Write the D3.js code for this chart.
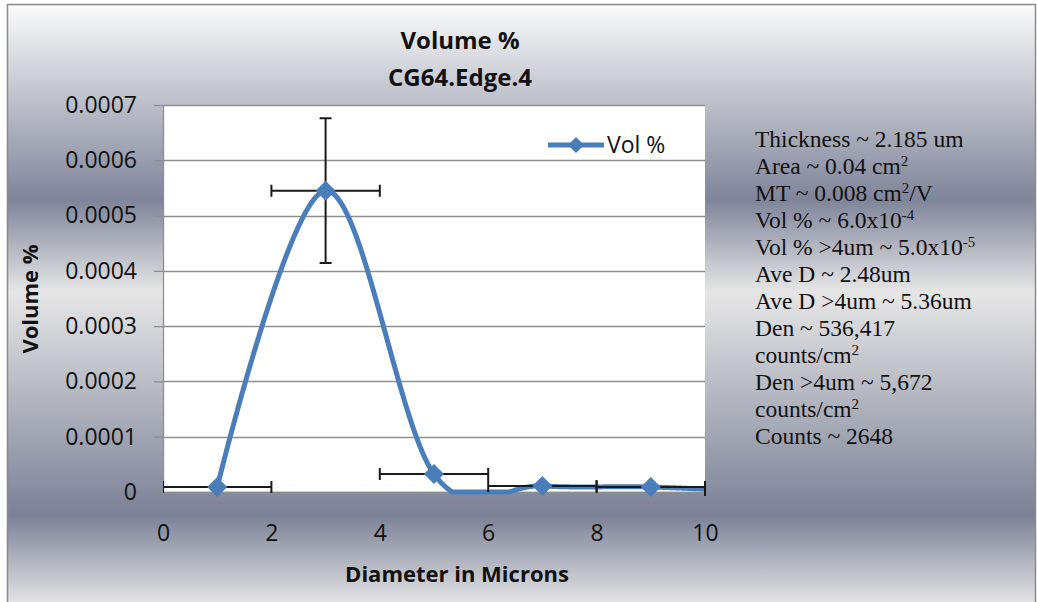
<!DOCTYPE html>
<html>
<head>
<meta charset="utf-8">
<script src="https://cdn.jsdelivr.net/npm/d3@7"></script>
<style>
	html, body { margin: 0; padding: 0; background: #fff; }
	svg { display: block; }
</style>
</head>
<body>
<svg id="chart" width="1037" height="602"></svg>
<script>
// Bin centres (microns) and measured volume %. The last bin sits past the axis max and gets clipped.
const diameters = [1, 3, 5, 7, 9, 11];
const volumePct = [0.000009, 0.000545, 0.0000325, 0.000011, 0.000009, 0.0000005];

// Error bars: half bin width on x, measured spread on y.
const xErrors = [1, 1, 1, 1, 1, 1];
const yErrors = [0.000002, 0.000131, 0.000004, 0.000002, 0.000002, 0];

const xTicks = [0, 2, 4, 6, 8, 10];
const yTicks = [0, 0.0001, 0.0002, 0.0003, 0.0004, 0.0005, 0.0006, 0.0007];

const titleLines = ['Volume %', 'CG64.Edge.4'];
const xTitle = 'Diameter in Microns';
const yTitle = 'Volume %';
const seriesName = 'Vol %';

// Text box next to the chart; {..} marks a superscript.
const infoLines = [
	'Thickness ~ 2.185 um',
	'Area ~ 0.04 cm{2}',
	'MT ~ 0.008 cm{2}/V',
	'Vol % ~ 6.0x10{-4}',
	'Vol % >4um ~ 5.0x10{-5}',
	'Ave D ~ 2.48um',
	'Ave D >4um ~ 5.36um',
	'Den ~ 536,417',
	'counts/cm{2}',
	'Den >4um ~ 5,672',
	'counts/cm{2}',
	'Counts ~ 2648',
];

const points = diameters.map((d, i) => ({ x: d, y: volumePct[i], ex: xErrors[i], ey: yErrors[i] }));

const svg = d3.select('#chart');
const sans = "'Open Sans', sans-serif";
const blue = '#4a7ebb';

const plot = { left: 163, right: 705, top: 105, bottom: 492 };

const x = d3.scaleLinear().domain([0, 10]).range([plot.left, plot.right]);
const y = d3.scaleLinear().domain([0, 0.0007]).range([plot.bottom, plot.top]);

// Chart area fill: banded grey-blue gradient.
const defs = svg.append('defs');
const grad = defs
	.append('linearGradient')
	.attr('id', 'bg')
	.attr('gradientUnits', 'userSpaceOnUse')
	.attr('x1', 0)
	.attr('y1', 4)
	.attr('x2', 0)
	.attr('y2', 602);

[
	[4, '#fbfbfb'],
	[200, '#7f8499'],
	[292, '#e6e6e6'],
	[515, '#7b8196'],
	[602, '#e2e2e4'],
].forEach(([py, color]) => {
	grad.append('stop').attr('offset', (py - 4) / 598).attr('stop-color', color);
});

defs
	.append('clipPath')
	.attr('id', 'plot-clip')
	.append('rect')
	.attr('x', plot.left)
	.attr('y', plot.top)
	.attr('width', plot.right - plot.left + 1)
	.attr('height', plot.bottom - plot.top + 4);

svg
	.append('rect')
	.attr('x', 7.5)
	.attr('y', 4.5)
	.attr('width', 1028)
	.attr('height', 610)
	.attr('fill', 'url(#bg)')
	.attr('stroke', '#8a8a8a')
	.attr('stroke-width', 1.5);

svg
	.append('rect')
	.attr('x', plot.left)
	.attr('y', plot.top)
	.attr('width', plot.right - plot.left)
	.attr('height', plot.bottom - plot.top)
	.attr('fill', '#fff');

// Horizontal gridlines.
svg
	.append('g')
	.selectAll('line')
	.data(yTicks)
	.join('line')
	.attr('x1', plot.left)
	.attr('x2', plot.right)
	.attr('y1', d => Math.round(y(d)) + 0.5)
	.attr('y2', d => Math.round(y(d)) + 0.5)
	.attr('stroke', '#8e8e8e')
	.attr('stroke-width', 1.3);

// Axes.
const yAxis = svg
	.append('g')
	.attr('transform', `translate(${plot.left},0)`)
	.call(
		d3
			.axisLeft(y)
			.tickValues(yTicks)
			.tickFormat(d => (d === 0 ? '0' : d3.format('.4f')(d)))
			.tickSizeInner(9)
			.tickSizeOuter(0)
			.tickPadding(17)
	);

const xAxis = svg
	.append('g')
	.attr('transform', `translate(0,${plot.bottom})`)
	.call(d3.axisBottom(x).tickValues(xTicks).tickSizeInner(5).tickSizeOuter(0).tickPadding(28));

[yAxis, xAxis].forEach(axis => {
	axis.select('.domain').attr('stroke', '#8e8e8e').attr('stroke-width', 1.3);
	axis.selectAll('.tick line').attr('stroke', '#8e8e8e').attr('stroke-width', 1.3);
	axis.selectAll('.tick text').attr('fill', '#111').style('font-family', sans).style('font-size', '23px');
});

// Series: smoothed line, error bars, then markers on top.
const series = svg.append('g').attr('clip-path', 'url(#plot-clip)');

const smooth = d3
	.line()
	.x(d => x(d.x))
	.y(d => y(d.y))
	.curve(d3.curveCatmullRom.alpha(0));

// Like Excel, flatten the part of the curve that dips under the axis onto the plot edge.
const probe = svg.append('path').attr('d', smooth(points)).attr('visibility', 'hidden');
const probeNode = probe.node();
const total = probeNode.getTotalLength();
const samples = d3.range(0, total, 1).concat([total]).map(l => {
	const p = probeNode.getPointAtLength(l);
	return [p.x, Math.min(p.y, plot.bottom)];
});
probe.remove();

series
	.append('path')
	.attr('fill', 'none')
	.attr('stroke', blue)
	.attr('stroke-width', 5)
	.attr('stroke-linejoin', 'round')
	.attr('d', d3.line()(samples));

const cap = 6;
series
	.append('g')
	.attr('stroke', '#1a1a1a')
	.attr('stroke-width', 2)
	.attr('fill', 'none')
	.selectAll('path')
	.data(points)
	.join('path')
	.attr('d', d => {
		const cx = x(d.x);
		const cy = y(d.y);
		const x0 = x(d.x - d.ex);
		const x1 = x(d.x + d.ex);
		const yTop = y(d.y + d.ey);
		const yBot = y(d.y - d.ey);
		let p = `M${x0},${cy}H${x1}M${x0},${cy - cap}V${cy + cap}M${x1},${cy - cap}V${cy + cap}`;
		if (d.ey) {
			p += `M${cx},${yTop}V${yBot}M${cx - cap},${yTop}H${cx + cap}M${cx - cap},${yBot}H${cx + cap}`;
		}
		return p;
	});

const diamond = r => `M0,${-r}L${r},0L0,${r}L${-r},0Z`;

svg
	.append('g')
	.selectAll('path')
	.data(points.filter(d => d.x <= x.domain()[1]))
	.join('path')
	.attr('transform', d => `translate(${x(d.x)},${y(d.y)})`)
	.attr('d', diamond(10))
	.attr('fill', blue);

// Legend.
const legend = svg.append('g').attr('transform', 'translate(548,145)');
legend.append('line').attr('x1', 0).attr('x2', 56).attr('stroke', blue).attr('stroke-width', 5);
legend.append('path').attr('transform', 'translate(28,0)').attr('d', diamond(8)).attr('fill', blue);
legend
	.append('text')
	.attr('x', 59)
	.attr('y', 8)
	.style('font-family', sans)
	.style('font-size', '23px')
	.attr('fill', '#111')
	.text(seriesName);

// Titles.
svg
	.append('g')
	.selectAll('text')
	.data(titleLines)
	.join('text')
	.attr('x', 460)
	.attr('y', (d, i) => 49 + i * 37)
	.attr('text-anchor', 'middle')
	.style('font-family', sans)
	.style('font-size', '24px')
	.style('font-weight', 'bold')
	.attr('fill', '#111')
	.text(d => d);

svg
	.append('text')
	.attr('x', 457)
	.attr('y', 582)
	.attr('text-anchor', 'middle')
	.style('font-family', sans)
	.style('font-size', '22px')
	.style('font-weight', 'bold')
	.attr('fill', '#111')
	.text(xTitle);

svg
	.append('text')
	.attr('transform', 'translate(38,299) rotate(-90)')
	.attr('text-anchor', 'middle')
	.style('font-family', sans)
	.style('font-size', '22px')
	.style('font-weight', 'bold')
	.attr('fill', '#111')
	.text(yTitle);

// Info text box.
const info = svg
	.append('text')
	.style('font-family', "'Liberation Serif', 'Times New Roman', serif")
	.style('font-size', '23.5px')
	.attr('fill', '#111');

infoLines.forEach((line, i) => {
	const row = info.append('tspan').attr('x', 755).attr('y', 147 + i * 27);
	let shift = 0;
	line.split(/\{([^}]*)\}/).forEach((part, j) => {
		if (!part) {
			return;
		}
		const sup = j % 2 === 1;
		const dy = (sup ? -8 : 0) - shift;
		shift = sup ? -8 : 0;
		row
			.append('tspan')
			.attr('dy', dy || null)
			.style('font-size', sup ? '15px' : null)
			.text(part);
	});
});
</script>
</body>
</html>
